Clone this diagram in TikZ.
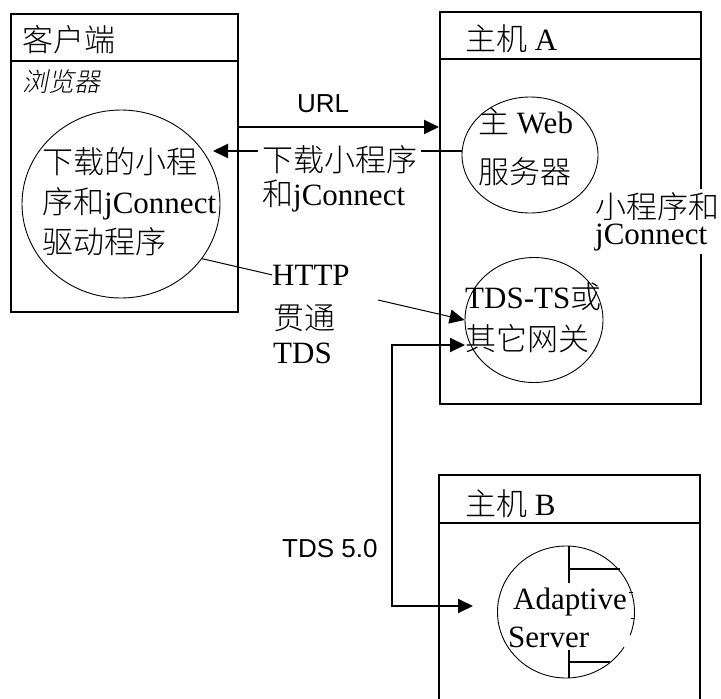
\documentclass[tikz,border=0pt]{standalone}
\usepackage{fontspec}
\setmainfont{Liberation Serif}
\newfontfamily\cjk{Noto Sans CJK SC}[UprightFont=* Light]
\newfontfamily\cjkit{Noto Sans CJK SC}[UprightFont=* Light, FakeSlant=0.2]
\newfontfamily\arial{Liberation Sans}
\newcommand\zh[1]{{\cjk #1}}
\usetikzlibrary{shapes.geometric,arrows.meta}
\begin{document}
\begin{tikzpicture}[x=1pt,y=-1pt,
  box/.style={draw, line width=2pt, inner sep=0, anchor=north west},
  bubble/.style={draw, ellipse, line width=0.9pt, inner sep=0},
  txt/.style={font=\fontsize{31}{36}\selectfont, inner sep=0, anchor=base west},
  lbl/.style={font=\arial\fontsize{26}{30}\selectfont, inner sep=0, anchor=base west},
  arr/.style={line width=2pt, -{Triangle[length=15pt,width=14pt]}},
  thinarr/.style={line width=1pt, -{Triangle[length=15pt,width=14pt]}},
  thinline/.style={line width=1pt},
  divider/.style={line width=2pt}]
\useasboundingbox (0,0) rectangle (721,699);

% ---- client box
\node[box, minimum width=227pt, minimum height=298pt] (cbox) at (10,13) {};
\draw[divider] (10,61) -- (237,61);
\node[txt] (ctitle) at (22,51) {\zh{客户端}};
\node[txt, font=\cjkit\fontsize{26}{30}\selectfont] (browser) at (22,91) {浏览器};
\node[bubble, minimum width=198pt, minimum height=188pt] (dl) at (121,204) {};
\node[txt] (dl1) at (42,173) {\zh{下载的小程}};
\node[txt] (dl2) at (42,213) {\zh{序和}jConnect};
\node[txt] (dl3) at (42,253) {\zh{驱动程序}};

% ---- host A
\node[box, minimum width=261pt, minimum height=392pt] (abox) at (439,11) {};
\draw[divider] (439,59) -- (700,59);
\node[txt] (atitle) at (465,50) {\zh{主机} A};
\node[bubble, minimum width=136pt, minimum height=116pt] (web) at (530,155) {};
\node[txt] (web1) at (478,133) {\zh{主} Web};
\node[txt] (web2) at (478,183) {\zh{服务器}};
\node[bubble, minimum width=138pt, minimum height=125pt] (tds) at (534,320) {};
\node[txt] (tds1) at (465,308) {TDS-TS\zh{或}};
\node[txt] (tds2) at (465,350) {\zh{其它网关}};
\node[txt, fill=white, inner ysep=3pt] (aj1) at (595,218) {\zh{小程序和}};
\node[txt, fill=white, inner ysep=3pt] (aj2) at (595,244) {jConnect};

% ---- host B
\coordinate (bTL) at (439,475);
\coordinate (bTR) at (700,475);
\draw[divider] (439,699) -- (bTL) -- (bTR) -- (700,699);
\draw[divider] (439,523) -- (700,523);
\node[txt] (btitle) at (465,515) {\zh{主机} B};
\node[bubble, minimum width=137pt, minimum height=132pt] (as) at (566,612) {};
\draw[white, line width=3pt] (630,635) -- (624,647);
\draw[thinline] (629,592) -- (633,592);
\draw[thinline] (631,618) -- (635,618);
\draw[divider] (569,546) -- (569,583);
\draw[divider] (569,569) -- (620,569);
\draw[divider] (569,650) -- (569,678);
\draw[divider] (569,662) -- (610,662);
\node[txt] (as1) at (513,609) {Adaptive};
\node[txt] (as2) at (508,647) {Server};

% ---- URL arrow
\coordinate (urlS) at (237,127);
\draw[arr] (cbox.east |- urlS) -- (abox.west |- urlS);
\node[lbl] (url) at (297,112) {URL};

% ---- download arrow
\coordinate (dlTip) at (213,151);
\draw[arr] (web.west |- dlTip) -- (dlTip);
\node[txt, fill=white, inner xsep=4pt, inner ysep=0pt] (dll1) at (258,171) {\zh{下载小程序}};
\node[txt] (dll2) at (262,205) {\zh{和}jConnect};

% ---- HTTP tunnel
\node[txt] (http1) at (272,285) {HTTP};
\node[txt] (http2) at (273,329) {\zh{贯通}};
\node[txt] (http3) at (273,363) {TDS};
\draw[thinline] (dl.-34) -- (http1.west);
\coordinate (hS) at (378,300);
\draw[thinarr] (hS) -- (tds.west);

% ---- TDS 5.0
\coordinate (tIn) at (465,345);
\coordinate (aIn) at (473,606);
\draw[line width=2pt, {Triangle[length=15pt,width=14pt]}-{Triangle[length=15pt,width=14pt]}]
  (tIn) -- (392,345) -- (392,606) -- (aIn);
\node[lbl] (tds50) at (282,557) {TDS 5.0};
\end{tikzpicture}
\end{document}
